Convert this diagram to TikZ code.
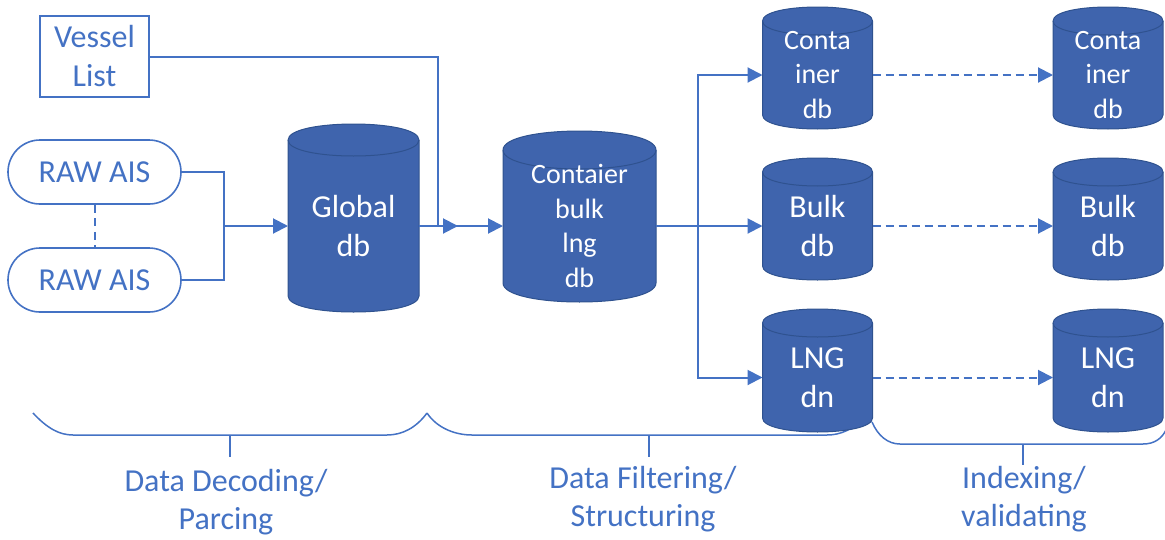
\documentclass[tikz,border=0pt]{standalone}
\usepackage{fontspec}
\setmainfont{Carlito}
\usetikzlibrary{arrows.meta,calc,shapes.misc}
\definecolor{accent}{HTML}{4472C4}
\definecolor{dbfillc}{HTML}{3F64AD}
\definecolor{dbedge}{HTML}{2F528F}
\pgfdeclarelayer{back}
\pgfdeclarelayer{background}
\pgfsetlayers{back,background,main}

\tikzset{
  flow/.style={draw=accent, line width=2pt},
  arr/.style={flow, -{Triangle[length=15pt,width=15pt]}},
  darr/.style={arr, dash pattern=on 8pt off 5pt},
  brace/.style={draw=accent, line width=1.5pt},
  src/.style={draw=accent, line width=1.6pt, text=accent, align=center,
    inner sep=0pt, font=\fontsize{32}{39}\selectfont},
  dbbody/.style={inner sep=0pt, outer sep=0pt},
  dbtext/.style={text=white, align=center, inner sep=0pt},
  big/.style={font=\fontsize{32}{39}\selectfont},
  small/.style={font=\fontsize{28}{34.5}\selectfont},
  dbshape/.style={fill=dbfillc, draw=dbedge, line width=1pt},
  dbrim/.style={draw=dbedge, line width=1pt},
  phase/.style={text=accent, align=center, inner sep=0pt,
    font=\fontsize{32}{37.5}\selectfont},
}

% database cylinder around a body node: #1 node name, #2 half height of the end caps (pt)
\newcommand\dbcyl[2]{%
  \path[dbshape] ($(#1.north west)+(0pt,#2pt)$)
    .. controls +(0pt,1.333*#2pt) and +(0pt,1.333*#2pt) .. ($(#1.north east)+(0pt,#2pt)$)
    -- (#1.south east)
    .. controls +(0pt,-1.333*#2pt) and +(0pt,-1.333*#2pt) .. (#1.south west)
    -- cycle;
  \draw[dbrim] ($(#1.north west)+(0pt,#2pt)$)
    .. controls +(0pt,-1.333*#2pt) and +(0pt,-1.333*#2pt) .. ($(#1.north east)+(0pt,#2pt)$);
}

\begin{document}
\begin{tikzpicture}[x=1pt,y=-1pt]
\useasboundingbox (0,0) rectangle (1165,539);

% sources
\node[src, rectangle, line width=1.8pt, minimum width=109pt, minimum height=81pt] (vessel) at (94.5,56.5) {Vessel\\List};
\node[src, rounded rectangle, minimum width=173pt, minimum height=64pt] (raw1) at (94.5,172) {RAW AIS};
\node[src, rounded rectangle, minimum width=173pt, minimum height=64pt] (raw2) at (94.5,280) {RAW AIS};

% database bodies (text area below the top rim)
\node[dbbody, minimum width=131pt, minimum height=140pt] (glob) at (353.5,226) {};
\node[dbtext, big] (glob-t) at (glob.center) {Global\\db};

\node[dbbody, minimum width=153pt, minimum height=114pt] (cb) at (579.5,226) {};
\node[dbtext, small] (cb-t) at (cb.center) {Contaier\\bulk\\lng\\db};

\node[dbbody, minimum width=110pt, minimum height=80pt] (c1) at (817.5,75) {};
\node[dbtext, small] (c1-t) at (c1.center) {Conta\\iner\\db};
\node[dbbody, minimum width=110pt, minimum height=80pt] (b1) at (817.5,226) {};
\node[dbtext, big] (b1-t) at (b1.center) {Bulk\\db};
\node[dbbody, minimum width=110pt, minimum height=81pt] (l1) at (817.5,377.5) {};
\node[dbtext, big] (l1-t) at (l1.center) {LNG\\dn};

\node[dbbody, minimum width=110pt, minimum height=80pt] (c2) at (1108,75) {};
\node[dbtext, small] (c2-t) at (c2.center) {Conta\\iner\\db};
\node[dbbody, minimum width=110pt, minimum height=80pt] (b2) at (1108,226) {};
\node[dbtext, big] (b2-t) at (b2.center) {Bulk\\db};
\node[dbbody, minimum width=110pt, minimum height=81pt] (l2) at (1108,377.5) {};
\node[dbtext, big] (l2-t) at (l2.center) {LNG\\dn};

\begin{pgfonlayer}{background}
  \dbcyl{glob}{16}
  \dbcyl{cb}{19}
  \dbcyl{c1}{14}
  \dbcyl{b1}{14}
  \dbcyl{l1}{14}
  \dbcyl{c2}{14}
  \dbcyl{b2}{14}
  \dbcyl{l2}{14}
\end{pgfonlayer}

% connectors
\coordinate (merge) at (224,226);
\draw[flow] (raw1.east) -| (merge) |- (raw2.east);
\draw[arr] (merge) -- (glob.west);
\draw[accent, line width=2pt, dash pattern=on 8pt off 5.5pt] (raw1.south) -- (raw2.north);

\coordinate (vdrop) at (438,226);
\coordinate (vtip) at (458,226);
\draw[arr] (vessel.east) -| (vdrop) -- (vtip);
\draw[arr] (glob.east) -- (cb.west);

\coordinate (split) at (698,226);
\draw[arr] (cb.east) -- (b1.west);
\draw[arr] (split) |- (c1.west);
\draw[arr] (split) |- (l1.west);

\draw[darr] (c1.east) -- (c2.west);
\draw[darr] (b1.east) -- (b2.west);
\draw[darr] (l1.east) -- (l2.west);

% phase braces
\begin{pgfonlayer}{back}
  \draw[brace] (33,413) .. controls (47,428) and (59,435) .. (73,435) -- (387,435)
    .. controls (402,435) and (416,428) .. (427,413);
  \draw[brace] (427,413) .. controls (437,428) and (455,435) .. (472,435) -- (827,435)
    .. controls (841,435) and (853,429) .. (862,419);
  \draw[brace] (872,422) .. controls (878,436) and (888,444) .. (900,444) -- (1143,444)
    .. controls (1155,444) and (1162,438) .. (1166,430);
\end{pgfonlayer}
\coordinate (t1a) at (230,435);  \coordinate (t1b) at (230,457);
\coordinate (t2a) at (649,435);  \coordinate (t2b) at (649,457);
\coordinate (t3a) at (1023,444); \coordinate (t3b) at (1023,465);
\draw[brace] (t1a) -- (t1b);
\draw[brace] (t2a) -- (t2b);
\draw[brace] (t3a) -- (t3b);

\node[phase] (ph1) at (226,502) {Data Decoding/\\Parcing};
\node[phase] (ph2) at (643,499) {Data Filtering/\\Structuring};
\node[phase] (ph3) at (1024,499) {Indexing/\\validating};
\end{tikzpicture}
\end{document}
